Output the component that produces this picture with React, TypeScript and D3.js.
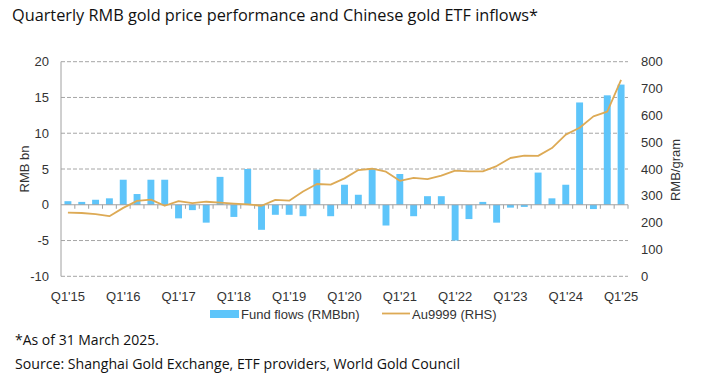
import React from "react";
import * as d3 from "d3";

const years = ["15", "16", "17", "18", "19", "20", "21", "22", "23", "24", "25"];
const quarters: string[] = [];
years.forEach((y) => {
  for (let q = 1; q <= 4; q++) {
    if (y === "25" && q > 1) break;
    quarters.push(`Q${q}'${y}`);
  }
});

const fundFlows = [
  0.5, 0.4, 0.7, 0.9, 3.5, 1.5, 3.5, 3.5,
  -1.9, -0.75, -2.5, 3.9, -1.7, 5.0, -3.5, -1.4,
  -1.4, -1.6, 4.9, -1.6, 2.8, 1.4, 5.1, -2.9,
  4.3, -1.6, 1.2, 1.2, -5.0, -2.0, 0.4, -2.5,
  -0.4, -0.3, 4.5, 0.9, 2.8, 14.3, -0.6, 15.3,
  16.8,
];

const au9999 = [
  237, 236, 232, 224, 255, 281, 286, 263,
  280, 273, 278, 275, 271, 268, 263, 285,
  282, 316, 344, 342, 365, 396, 401, 390,
  356, 367, 362, 375, 394, 391, 391, 411,
  441, 450, 449, 478, 528, 554, 596, 614,
  732,
];

const leftTicks = [-10, -5, 0, 5, 10, 15, 20];
const rightTicks = [0, 100, 200, 300, 400, 500, 600, 700, 800];
const labelQuarters = quarters.filter((q) => q.startsWith("Q1"));

const W = 718;
const H = 388;
const left = 61;
const right = 628;
const top = 61.7;
const bottom = 276.3;

export default function App() {
  const x = d3
    .scaleBand<string>()
    .domain(quarters)
    .range([left, right])
    .paddingInner(0.5)
    .paddingOuter(0.25);
  const yL = d3.scaleLinear().domain([-10, 20]).range([bottom, top]);
  const yR = d3.scaleLinear().domain([0, 800]).range([bottom, top]);
  const step = x.step();
  const bw = x.bandwidth();
  const cx = (q: string) => (x(q) as number) + bw / 2;

  const line = d3
    .line<number>()
    .x((_, i) => cx(quarters[i]))
    .y((d) => yR(d));

  const axisFont = "'Liberation Sans', Arial, Helvetica, sans-serif";
  const textFont = "'Open Sans', 'Noto Sans', sans-serif";
  const y0 = yL(0);

  return (
    <svg
      width={W}
      height={H}
      style={{ position: "absolute", left: 0, top: 0, background: "#fff" }}
    >
      <text
        x={12}
        y={21}
        fontFamily={textFont}
        fontSize={16}
        fill="#111"
        textLength={526}
        lengthAdjust="spacingAndGlyphs"
      >
        Quarterly RMB gold price performance and Chinese gold ETF inflows*
      </text>

      {/* gridlines */}
      {leftTicks
        .filter((t) => t !== 0)
        .map((t) => (
          <line
            key={t}
            x1={left}
            x2={right}
            y1={yL(t)}
            y2={yL(t)}
            stroke="#a6a6a6"
            strokeWidth={1}
            strokeDasharray="4,2"
          />
        ))}

      {/* bars */}
      {fundFlows.map((v, i) => {
        const q = quarters[i];
        const yv = yL(v);
        return (
          <rect
            key={q}
            x={x(q)}
            y={Math.min(yv, y0)}
            width={bw}
            height={Math.abs(yv - y0)}
            fill="#5EC5FA"
          />
        );
      })}

      {/* zero axis */}
      <line x1={left} x2={right} y1={y0} y2={y0} stroke="#a0a0a0" strokeWidth={1} />
      {quarters.slice(1).map((q, i) => {
        const xx = left + step * (i + 1);
        return (
          <line
            key={"t" + q}
            x1={xx}
            x2={xx}
            y1={y0}
            y2={y0 + 4}
            stroke="#a0a0a0"
            strokeWidth={1}
          />
        );
      })}
      <line x1={right} x2={right} y1={y0} y2={y0 + 4} stroke="#a0a0a0" strokeWidth={1} />

      {/* left axis line */}
      <line x1={left} x2={left} y1={top} y2={bottom} stroke="#a0a0a0" strokeWidth={1} />

      {/* gold line */}
      <path
        d={line(au9999) || ""}
        fill="none"
        stroke="#DDAA55"
        strokeWidth={1.8}
        strokeLinejoin="round"
      />

      {/* left tick labels */}
      {leftTicks.map((t) => (
        <text
          key={"l" + t}
          x={49}
          y={yL(t)}
          dy="0.35em"
          textAnchor="end"
          fontFamily={axisFont}
          fontSize={13}
          fill="#333"
        >
          {t}
        </text>
      ))}

      {/* right tick labels */}
      {rightTicks.map((t) => (
        <text
          key={"r" + t}
          x={641}
          y={yR(t)}
          dy="0.35em"
          textAnchor="start"
          fontFamily={axisFont}
          fontSize={13}
          fill="#333"
        >
          {t}
        </text>
      ))}

      {/* axis titles */}
      <text
        transform={`translate(29,169) rotate(-90)`}
        textAnchor="middle"
        fontFamily={axisFont}
        fontSize={13}
        fill="#333"
      >
        RMB bn
      </text>
      <text
        transform={`translate(680,170) rotate(-90)`}
        textAnchor="middle"
        fontFamily={axisFont}
        fontSize={13}
        fill="#333"
      >
        RMB/gram
      </text>

      {/* x labels */}
      {labelQuarters.map((q) => (
        <text
          key={"x" + q}
          x={cx(q)}
          y={296}
          dy="0.35em"
          textAnchor="middle"
          fontFamily={axisFont}
          fontSize={13}
          fill="#333"
        >
          {q}
        </text>
      ))}

      {/* legend */}
      <rect x={210} y={310} width={29} height={8} fill="#5EC5FA" />
      <text
        x={241}
        y={314}
        dy="0.35em"
        fontFamily={axisFont}
        fontSize={13}
        fill="#333"
      >
        Fund flows (RMBbn)
      </text>
      <line x1={382} x2={410} y1={313.5} y2={313.5} stroke="#DDAA55" strokeWidth={1.8} />
      <text
        x={412}
        y={314}
        dy="0.35em"
        fontFamily={axisFont}
        fontSize={13}
        fill="#333"
      >
        Au9999 (RHS)
      </text>

      {/* notes */}
      <text
        x={15}
        y={345}
        fontFamily={textFont}
        fontSize={14}
        fill="#111"
        textLength={144}
        lengthAdjust="spacingAndGlyphs"
      >
        *As of 31 March 2025.
      </text>
      <text
        x={15}
        y={368.5}
        fontFamily={textFont}
        fontSize={14}
        fill="#111"
        textLength={445}
        lengthAdjust="spacingAndGlyphs"
      >
        Source: Shanghai Gold Exchange, ETF providers, World Gold Council
      </text>
    </svg>
  );
}
